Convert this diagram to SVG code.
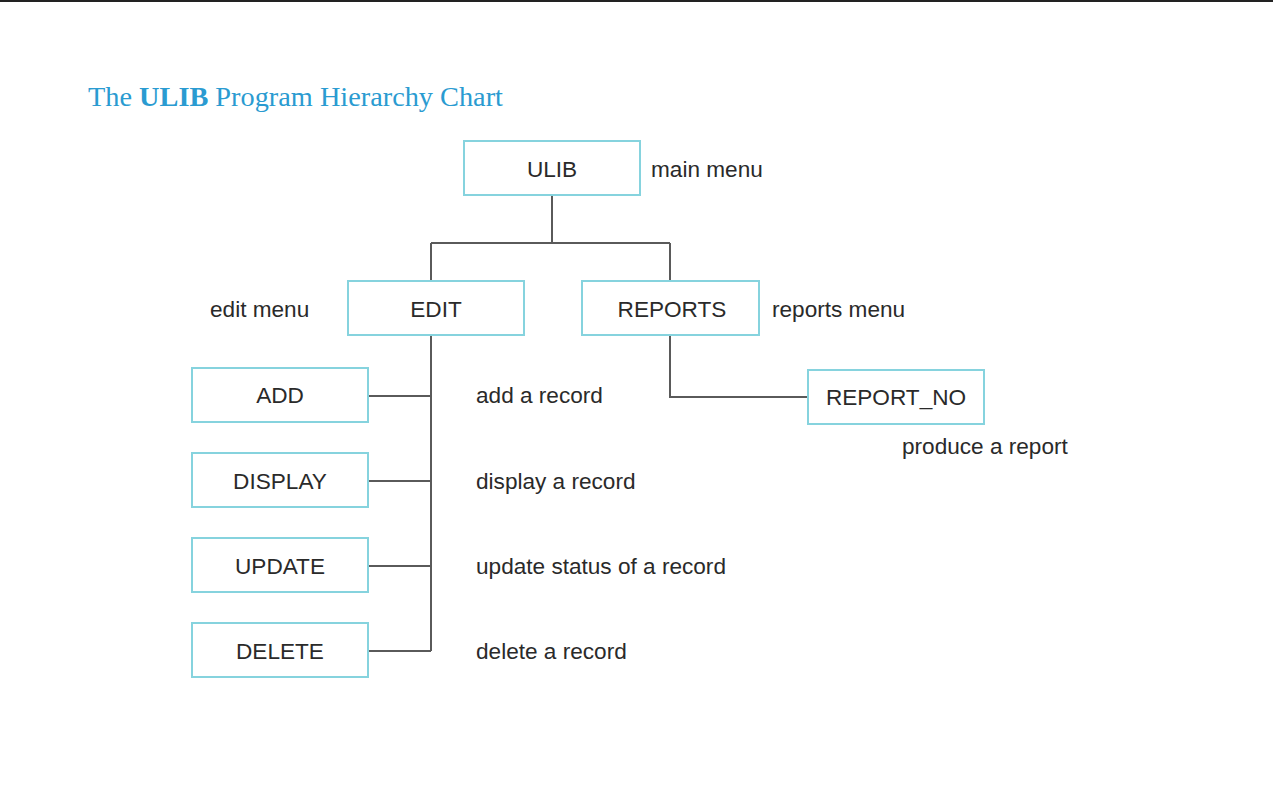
<svg xmlns="http://www.w3.org/2000/svg" width="1273" height="790" viewBox="0 0 1273 790">
<style>
.box{fill:#ffffff;stroke:#86d3de;stroke-width:2}
.lbl{font-family:"Liberation Sans",Arial,sans-serif;font-size:22.6px;fill:#2a2a2a}
.c{text-anchor:middle}
.conn{fill:none;stroke:#5a5a5a;stroke-width:2}
</style>
<rect x="0" y="0" width="1273" height="790" fill="#ffffff"/>
<rect x="0" y="0" width="1273" height="2" fill="#222222"/>
<text x="88" y="106" font-family="'Liberation Serif','Times New Roman',serif" font-size="28.3" fill="#2a9bd1">The <tspan font-weight="bold">ULIB</tspan> Program Hierarchy Chart</text>
<g id="connectors">
<path class="conn" d="M552 195 V243 M431 243 H670 M431 243 V281 M670 243 V281"/>
<path class="conn" d="M670 335 V397 H808"/>
<path class="conn" d="M431 335 V651"/>
<path class="conn" d="M368 396 H431 M368 481 H431 M368 566 H431 M368 651 H431"/>
</g>
<g id="ULIB"><rect class="box" x="464" y="141" width="176" height="54"/><text class="lbl c" x="552" y="177">ULIB</text><text class="lbl" x="651" y="177">main menu</text></g>
<g id="EDIT"><rect class="box" x="348" y="281" width="176" height="54"/><text class="lbl c" x="436" y="317">EDIT</text><text class="lbl" x="210" y="317">edit menu</text></g>
<g id="REPORTS"><rect class="box" x="582" y="281" width="177" height="54"/><text class="lbl c" x="672" y="317">REPORTS</text><text class="lbl" x="772" y="317">reports menu</text></g>
<g id="REPORT_NO"><rect class="box" x="808" y="370" width="176" height="54"/><text class="lbl c" x="896" y="405">REPORT_NO</text><text class="lbl" x="902" y="454">produce a report</text></g>
<g id="ADD"><rect class="box" x="192" y="368" width="176" height="54"/><text class="lbl c" x="280" y="403">ADD</text><text class="lbl" x="476" y="403">add a record</text></g>
<g id="DISPLAY"><rect class="box" x="192" y="453" width="176" height="54"/><text class="lbl c" x="280" y="489">DISPLAY</text><text class="lbl" x="476" y="489">display a record</text></g>
<g id="UPDATE"><rect class="box" x="192" y="538" width="176" height="54"/><text class="lbl c" x="280" y="574">UPDATE</text><text class="lbl" x="476" y="574">update status of a record</text></g>
<g id="DELETE"><rect class="box" x="192" y="623" width="176" height="54"/><text class="lbl c" x="280" y="659">DELETE</text><text class="lbl" x="476" y="659">delete a record</text></g>
</svg>
